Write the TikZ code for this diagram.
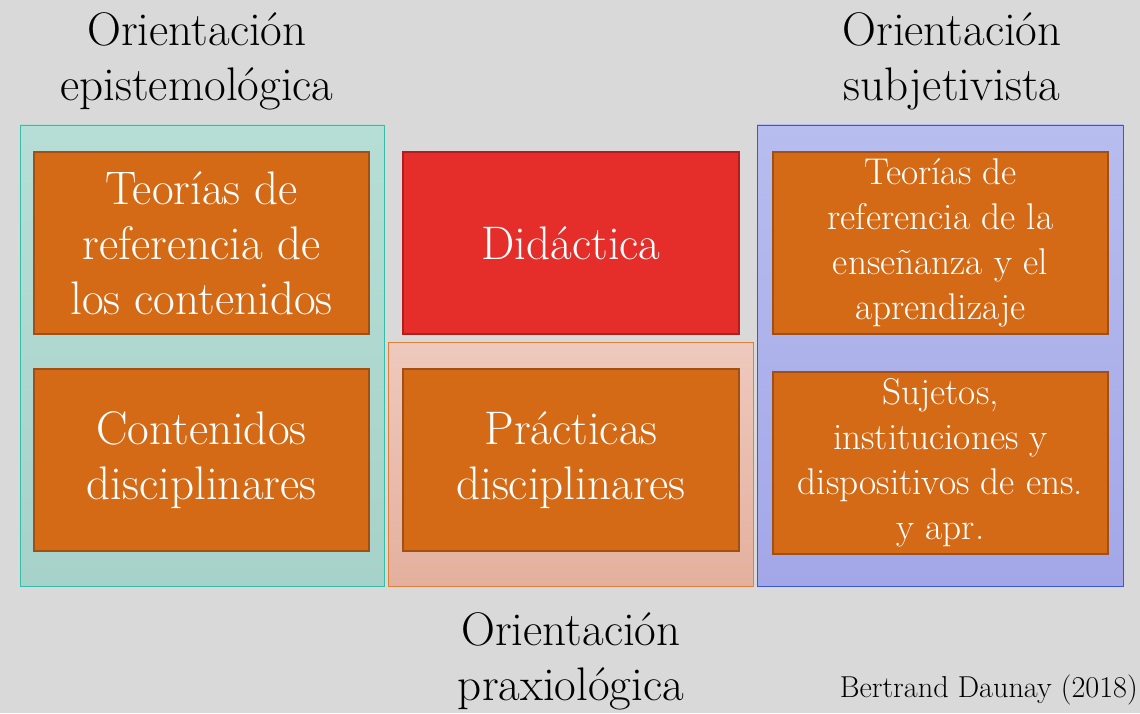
\documentclass[tikz,border=0pt]{standalone}
\usepackage{tikz}
\usetikzlibrary{positioning}

\definecolor{fondo}{RGB}{217,217,217}
\definecolor{naranja}{RGB}{212,106,22}
\definecolor{naranjaborde}{RGB}{160,80,20}
\definecolor{rojo}{RGB}{229,46,42}
\definecolor{rojoborde}{RGB}{178,30,30}
\definecolor{tealarriba}{RGB}{182,222,214}
\definecolor{tealabajo}{RGB}{167,210,201}
\definecolor{tealborde}{RGB}{50,190,168}
\definecolor{melocarriba}{RGB}{238,201,189}
\definecolor{melocabajo}{RGB}{228,176,158}
\definecolor{melocborde}{RGB}{224,128,60}
\definecolor{azularriba}{RGB}{183,189,238}
\definecolor{azulabajo}{RGB}{163,167,232}
\definecolor{azulborde}{RGB}{55,88,220}

\tikzset{
  panel/.style={draw, rectangle, line width=0.7pt, minimum width=#1, minimum height=11.525cm},
  box/.style={draw=naranjaborde, fill=naranja, rectangle, line width=1.4pt, minimum width=8.375cm, minimum height=4.55cm, align=center, text=white, font=\fontsize{33.5}{39}\selectfont},
  smallbox/.style={box, font=\fontsize{26.5}{32}\selectfont},
  heading/.style={align=center, font=\fontsize{33.5}{39}\selectfont}
}

\begin{document}
\begin{tikzpicture}
\useasboundingbox (0,0) rectangle (28.5,17.825);
\fill[fondo] (0,0) rectangle (28.5,17.825);

% Panels
\node[panel=9.1cm, draw=tealborde, top color=tealarriba, bottom color=tealabajo] (epist) at (5.05,8.9375) {};
\node[panel=9.125cm, minimum height=6.1cm, draw=melocborde, top color=melocarriba, bottom color=melocabajo] (praxis) at (14.2625,6.225) {};
\node[panel=9.15cm, draw=azulborde, top color=azularriba, bottom color=azulabajo] (subjet) at (23.5,8.9375) {};

% Boxes, left
\node[box] (teorias) at (5.0375,11.75) {Teorías de\\referencia de\\los contenidos};
\node[box] (contenidos) at (5.0375,6.325) {Contenidos\\disciplinares};

% Boxes, middle
\node[box, draw=rojoborde, fill=rojo, minimum width=8.4cm] (didactica) at (14.275,11.75) {Didáctica};
\node[box, minimum width=8.4cm] (practicas) at (14.275,6.325) {Prácticas\\disciplinares};

% Boxes, right
\node[smallbox] (teoriasens) at (23.5125,11.75) {Teorías de\\referencia de la\\enseñanza y el\\aprendizaje};
\node[smallbox] (sujetos) at (23.5125,6.25) {Sujetos,\\instituciones y\\dispositivos de ens.\\y apr.};

% Headings
\node[heading] (tepist) at (4.925,16.3) {Orientación\\epistemológica};
\node[heading] (tsubjet) at (23.8,16.3) {Orientación\\subjetivista};
\node[heading] (tpraxis) at (14.275,1.3) {Orientación\\praxiológica};

% Credit
\node[anchor=base east, inner sep=0pt, font=\fontsize{21.5}{26}\selectfont] (credit) at (28.45,0.4) {Bertrand Daunay (2018)};

\end{tikzpicture}
\end{document}
